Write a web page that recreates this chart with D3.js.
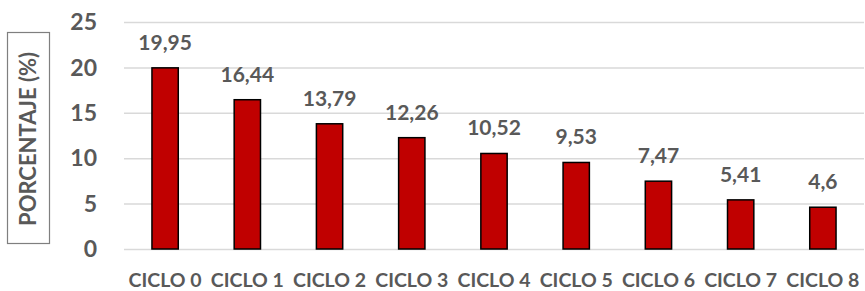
<!DOCTYPE html>
<html>
<head>
<meta charset="utf-8">
<script src="https://cdn.jsdelivr.net/npm/d3@7"></script>
<style>
  body { margin: 0; background: #fff; }
  svg text { font-family: Lato, "Open Sans", sans-serif; font-weight: bold; fill: #595959; }
</style>
</head>
<body>
<svg id="chart" width="865" height="291"></svg>
<script>
// chart data
const categories = ['CICLO 0', 'CICLO 1', 'CICLO 2', 'CICLO 3', 'CICLO 4', 'CICLO 5', 'CICLO 6', 'CICLO 7', 'CICLO 8'];
const values = [19.95, 16.44, 13.79, 12.26, 10.52, 9.53, 7.47, 5.41, 4.6];
const yTicks = [0, 5, 10, 15, 20, 25];
const yTitle = 'PORCENTAJE (%)';

const svg = d3.select('#chart');

const x = d3.scaleBand()
    .domain(categories)
    .range([124, 864])
    .paddingInner(0.68)
    .paddingOuter(0.34);

const y = d3.scaleLinear()
    .domain([0, 25])
    .range([249, 22]);

// horizontal grid
svg.append('g')
    .selectAll('line')
    .data(yTicks)
    .enter()
    .append('line')
    .attr('x1', 124)
    .attr('x2', 864)
    .attr('y1', d => y(d) + 0.5)
    .attr('y2', d => y(d) + 0.5)
    .attr('stroke', '#d9d9d9')
    .attr('stroke-width', 1.5);

// y tick labels
svg.append('g')
    .selectAll('text')
    .data(yTicks)
    .enter()
    .append('text')
    .attr('x', 97)
    .attr('y', d => y(d))
    .attr('dy', '0.36em')
    .attr('text-anchor', 'end')
    .attr('font-size', '23px')
    .text(d => d);

// bars
svg.append('g')
    .selectAll('rect')
    .data(values)
    .enter()
    .append('rect')
    .attr('x', (d, i) => x(categories[i]))
    .attr('y', d => y(d))
    .attr('width', x.bandwidth())
    .attr('height', d => y(0) - y(d))
    .attr('fill', '#c00000')
    .attr('stroke', '#000')
    .attr('stroke-width', 1.5);

// value labels
svg.append('g')
    .selectAll('text')
    .data(values)
    .enter()
    .append('text')
    .attr('x', (d, i) => x(categories[i]) + x.bandwidth() / 2)
    .attr('y', d => y(d) - 18)
    .attr('text-anchor', 'middle')
    .attr('font-size', '21px')
    .text(d => String(d).replace('.', ','));

// x labels
svg.append('g')
    .selectAll('text')
    .data(categories)
    .enter()
    .append('text')
    .attr('x', d => x(d) + x.bandwidth() / 2)
    .attr('y', 287)
    .attr('text-anchor', 'middle')
    .attr('font-size', '19.5px')
    .text(d => d);

// y title with box
svg.append('rect')
    .attr('x', 7.5)
    .attr('y', 32.5)
    .attr('width', 42)
    .attr('height', 211)
    .attr('fill', 'none')
    .attr('stroke', '#7f7f7f')
    .attr('stroke-width', 1.2);

svg.append('text')
    .attr('transform', 'translate(28.5,139) rotate(-90)')
    .attr('text-anchor', 'middle')
    .attr('dy', '0.36em')
    .attr('font-size', '22px')
    .text(yTitle);
</script>
</body>
</html>
